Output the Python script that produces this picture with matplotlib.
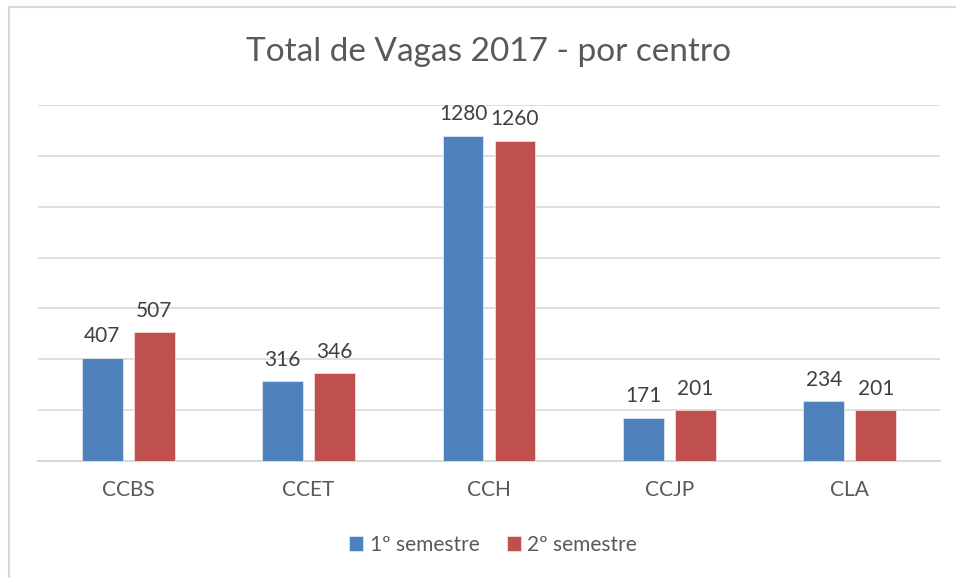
import matplotlib
matplotlib.use('Agg')
import matplotlib.pyplot as plt
import numpy as np
from matplotlib.patches import Rectangle

centros = ['CCBS', 'CCET', 'CCH', 'CCJP', 'CLA']
sem1 = [407, 316, 1280, 171, 234]
sem2 = [507, 346, 1260, 201, 201]
series_names = ['1º semestre', '2º semestre']
yticks = [0, 200, 400, 600, 800, 1000, 1200, 1400]

c_blue = '#4F81BD'
c_red = '#C0504D'
c_grid = '#D9D9D9'
c_text = '#595959'
c_label = '#404040'

plt.rcParams['font.family'] = ['Lato', 'DejaVu Sans']

fig = plt.figure(figsize=(9.56, 5.78), dpi=100)
# chart-area frame, only left and top edges fall inside the picture
fig.patches.append(Rectangle((9/956, -0.1), 1.2, 1.1 - 7.5/578, transform=fig.transFigure,
                             facecolor='none', edgecolor='#D9D9D9', linewidth=1.5, zorder=-1))

ax = fig.add_axes([38/956, 117/578, 902/956, 356/578])
x = np.arange(len(centros))
w = 0.227
off = 0.144
b1 = ax.bar(x - off, sem1, w, color=c_blue, edgecolor='#DCE6F2', linewidth=0.6, zorder=3, label=series_names[0])
b2 = ax.bar(x + off, sem2, w, color=c_red, edgecolor='#F2DCDB', linewidth=0.6, zorder=3, label=series_names[1])

for bars in (b1, b2):
    for r in bars:
        ax.annotate(str(int(r.get_height())), xy=(r.get_x() + r.get_width()/2, r.get_height()),
                    xytext=(0, 8), textcoords='offset points', ha='center', va='bottom',
                    fontsize=15, color=c_label)

ax.set_xlim(-0.5, len(centros) - 0.5)
ax.set_ylim(0, 1400)
ax.set_yticks(yticks)
ax.set_yticklabels([])
ax.set_xticks(x)
ax.set_xticklabels(centros, fontsize=15, color=c_text)
ax.tick_params(axis='both', length=0)
ax.tick_params(axis='x', pad=14)
ax.grid(axis='y', color=c_grid, linewidth=1.2, zorder=0)
for s in ['left', 'right', 'top']:
    ax.spines[s].set_visible(False)
ax.spines['bottom'].set_color(c_grid)
ax.spines['bottom'].set_linewidth(1.5)
ax.set_facecolor('none')

fig.text(489/956, 1 - 52/578, 'Total de Vagas 2017 - por centro', ha='center', va='center',
         fontsize=24, color=c_text)

fig.legend(loc='center', bbox_to_anchor=(493/956, 1 - 545/578), ncol=2, frameon=False,
           fontsize=15, handlelength=0.7, handleheight=0.7, handletextpad=0.3,
           columnspacing=1.3, labelcolor=c_text)

fig.savefig('out.png', dpi=100)
